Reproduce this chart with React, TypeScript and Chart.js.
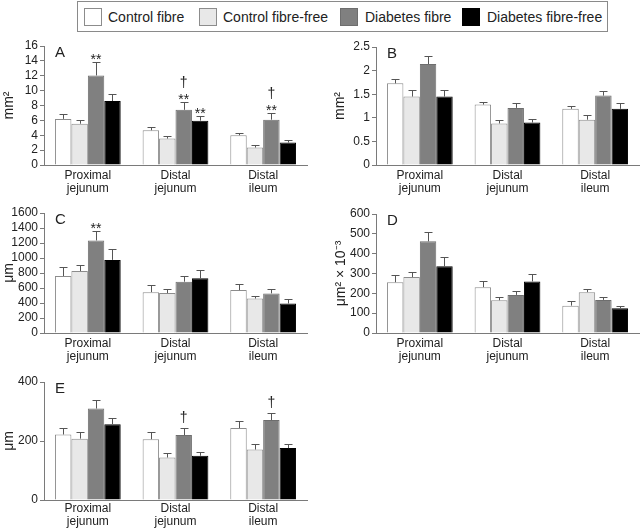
import React, { useEffect, useRef } from "react";
import { Chart, registerables } from "chart.js";
Chart.register(...registerables);

const FONT = "'Liberation Sans', Arial, Helvetica, sans-serif";
Chart.defaults.font.family = FONT;

// ---------- data ----------
const categories = [["Proximal", "jejunum"], ["Distal", "jejunum"], ["Distal", "ileum"]];
const seriesNames = ["Control fibre", "Control fibre-free", "Diabetes fibre", "Diabetes fibre-free"];
const seriesFill = ["#ffffff", "#e8e8e8", "#808080", "#000000"];
const seriesBorder = ["#8c8c8c", "#8c8c8c", "#6e6e6e", "#000000"];

// each inner array: one series across the three categories
const aMeans = [[6.2, 4.67, 4.0], [5.55, 3.55, 2.35], [12.04, 7.42, 6.09], [8.6, 5.96, 3.02]];
const aErrs = [[0.7, 0.48, 0.35], [0.55, 0.4, 0.32], [1.8, 1.11, 0.93], [0.95, 0.64, 0.31]];
const aTicks = [0, 2, 4, 6, 8, 10, 12, 14, 16];

const bMeans = [[1.73, 1.28, 1.19], [1.45, 0.88, 0.96], [2.14, 1.21, 1.47], [1.45, 0.9, 1.19]];
const bErrs = [[0.1, 0.06, 0.06], [0.14, 0.08, 0.09], [0.16, 0.1, 0.1], [0.14, 0.08, 0.13]];
const bTicks = [0, 0.5, 1, 1.5, 2, 2.5];

const cMeans = [[760, 545, 572], [827, 532, 460], [1234, 684, 528], [975, 729, 393]];
const cErrs = [[116, 90, 76], [76, 54, 40], [125, 71, 53], [143, 111, 54]];
const cTicks = [0, 200, 400, 600, 800, 1000, 1200, 1400, 1600];

const dMeans = [[256, 231, 138], [282, 165, 206], [462, 192, 167], [336, 260, 125]];
const dErrs = [[36, 30, 22], [25, 17, 18], [46, 19, 17], [47, 37, 13]];
const dTicks = [0, 100, 200, 300, 400, 500, 600];

const eMeans = [[222, 206, 244], [208, 144, 171], [310, 220, 271], [257, 150, 176]];
const eErrs = [[22, 24, 25], [22, 15, 18], [29, 24, 24], [21, 12, 15]];
const eTicks = [0, 200, 400];

// significance marks: [seriesIndex, categoryIndex, marks from bottom to top]
const aMarks: [number, number, string[]][] = [[2, 0, ["**"]], [2, 1, ["**", "†"]], [3, 1, ["**"]], [2, 2, ["**", "†"]]];
const cMarks: [number, number, string[]][] = [[2, 0, ["**"]]];
const eMarks: [number, number, string[]][] = [[2, 1, ["†"]], [2, 2, ["†"]]];

type PanelProps = {
  letter: string;
  means: number[][];
  errs: number[][];
  ticks: number[];
  marks: [number, number, string[]][];
  yTitle: string;
  left: number;
  top: number;
  width: number;
  height: number;
  yWidth: number;
  padTop: number;
  padRight: number;
  xHeight: number;
  titlePad: number;
  labelPad: number;
};

function Panel(p: PanelProps) {
  const ref = useRef<HTMLCanvasElement | null>(null);
  useEffect(() => {
    if (!ref.current) return;
    const step = p.ticks[1] - p.ticks[0];
    const overlay = {
      id: "overlay",
      afterDatasetsDraw(chart: any) {
        const ctx = chart.ctx as CanvasRenderingContext2D;
        const ys = chart.scales.y;
        const area = chart.chartArea;
        ctx.save();
        ctx.strokeStyle = "#555";
        ctx.lineWidth = 1;
        p.means.forEach((series, si) => {
          const meta = chart.getDatasetMeta(si);
          series.forEach((v, ci) => {
            const el = meta.data[ci];
            const x = Math.round(el.x) + 0.5;
            const yTop = Math.round(ys.getPixelForValue(v + p.errs[si][ci])) + 0.5;
            ctx.beginPath();
            ctx.moveTo(x, el.y);
            ctx.lineTo(x, yTop);
            ctx.moveTo(x - 4, yTop);
            ctx.lineTo(x + 4, yTop);
            ctx.stroke();
          });
        });
        ctx.fillStyle = "#222";
        ctx.textAlign = "center";
        ctx.textBaseline = "alphabetic";
        ctx.font = `14px ${FONT}`;
        p.marks.forEach(([si, ci, list]) => {
          const el = chart.getDatasetMeta(si).data[ci];
          const yTop = ys.getPixelForValue(p.means[si][ci] + p.errs[si][ci]);
          list.forEach((m, k) => {
            const base = m === "**" ? yTop + 2 : k === 0 ? yTop - 6 : yTop - 15;
            ctx.fillText(m, el.x, base);
          });
        });
        ctx.font = `15px ${FONT}`;
        ctx.textAlign = "left";
        ctx.textBaseline = "middle";
        ctx.fillText(p.letter, area.left + 11, area.top + 7);
        ctx.restore();
      },
    };
    const chart = new Chart(ref.current, {
      type: "bar",
      data: {
        labels: categories as any,
        datasets: p.means.map((series, si) => ({
          label: seriesNames[si],
          data: series,
          backgroundColor: seriesFill[si],
          borderColor: seriesBorder[si],
          borderWidth: 1,
          categoryPercentage: 0.75,
          barPercentage: 1.0,
        })),
      },
      options: {
        responsive: false,
        animation: false,
        events: [],
        layout: { padding: { top: p.padTop, right: p.padRight, left: 0, bottom: 0 } },
        plugins: { legend: { display: false }, tooltip: { enabled: false }, title: { display: false } },
        scales: {
          x: {
            type: "category",
            offset: true,
            grid: { display: false, drawTicks: false },
            border: { display: true, color: "#7a7a7a", width: 1 },
            ticks: {
              color: "#222",
              font: { size: 12, lineHeight: 1.08 },
              padding: p.labelPad,
              maxRotation: 0,
              autoSkip: false,
            },
            afterFit: (s: any) => {
              s.height = p.xHeight;
            },
          },
          y: {
            type: "linear",
            min: p.ticks[0],
            max: p.ticks[p.ticks.length - 1],
            grid: { display: true, drawOnChartArea: false, drawTicks: true, tickLength: 4, color: "#7a7a7a" },
            border: { display: true, color: "#7a7a7a", width: 1 },
            ticks: {
              stepSize: step,
              autoSkip: false,
              color: "#222",
              font: { size: 12 },
              padding: 2,
              callback: (v: any) => String(v),
            },
            title: {
              display: true,
              text: p.yTitle,
              color: "#222",
              font: { size: 14, lineHeight: 1.2 },
              padding: { top: p.titlePad, bottom: 0 },
            },
            afterFit: (s: any) => {
              s.width = p.yWidth;
            },
          },
        },
      } as any,
      plugins: [overlay],
    });
    return () => chart.destroy();
  }, []);
  return (
    <canvas
      ref={ref}
      width={p.width}
      height={p.height}
      style={{ position: "absolute", left: p.left, top: p.top, width: p.width, height: p.height, display: "block" }}
    />
  );
}

const legendSwatchLeft = [84, 199, 340, 462];
const legendTextLeft = [108, 223, 365, 487];

function Legend() {
  return (
    <div
      style={{
        position: "absolute",
        left: 77,
        top: 1,
        width: 531,
        height: 31,
        border: "1px solid #8a8a8a",
        boxSizing: "border-box",
        fontFamily: FONT,
        fontSize: 14,
        color: "#222",
      }}
    >
      {seriesNames.map((name, i) => (
        <React.Fragment key={name}>
          <div
            style={{
              position: "absolute",
              left: legendSwatchLeft[i] - 78,
              top: 6,
              width: 18,
              height: 18,
              boxSizing: "border-box",
              background: seriesFill[i],
              border: `1px solid ${seriesBorder[i]}`,
            }}
          />
          <div
            style={{
              position: "absolute",
              left: legendTextLeft[i] - 78,
              top: 6,
              height: 18,
              lineHeight: "18px",
              whiteSpace: "nowrap",
            }}
          >
            {name}
          </div>
        </React.Fragment>
      ))}
    </div>
  );
}

export default function App() {
  return (
    <div style={{ position: "absolute", left: 0, top: 0, width: 640, height: 529, background: "#fff", overflow: "hidden" }}>
      <Legend />
      <Panel letter="A" means={aMeans} errs={aErrs} ticks={aTicks} marks={aMarks} yTitle="mm²"
        left={0} top={36} width={320} height={164} yWidth={44} padTop={10} padRight={13} xHeight={35} titlePad={1} labelPad={4} />
      <Panel letter="B" means={bMeans} errs={bErrs} ticks={bTicks} marks={[]} yTitle="mm²"
        left={320} top={36} width={320} height={164} yWidth={56} padTop={11} padRight={1} xHeight={35} titlePad={12} labelPad={4} />
      <Panel letter="C" means={cMeans} errs={cErrs} ticks={cTicks} marks={cMarks} yTitle="μm"
        left={0} top={200} width={320} height={168} yWidth={44} padTop={13} padRight={13} xHeight={35} titlePad={1} labelPad={4} />
      <Panel letter="D" means={dMeans} errs={dErrs} ticks={dTicks} marks={[]} yTitle="μm² × 10⁻³"
        left={320} top={200} width={320} height={168} yWidth={56} padTop={14} padRight={1} xHeight={35} titlePad={13} labelPad={4} />
      <Panel letter="E" means={eMeans} errs={eErrs} ticks={eTicks} marks={eMarks} yTitle="μm"
        left={0} top={368} width={320} height={161} yWidth={44} padTop={14} padRight={13} xHeight={29} titlePad={1} labelPad={2} />
    </div>
  );
}
